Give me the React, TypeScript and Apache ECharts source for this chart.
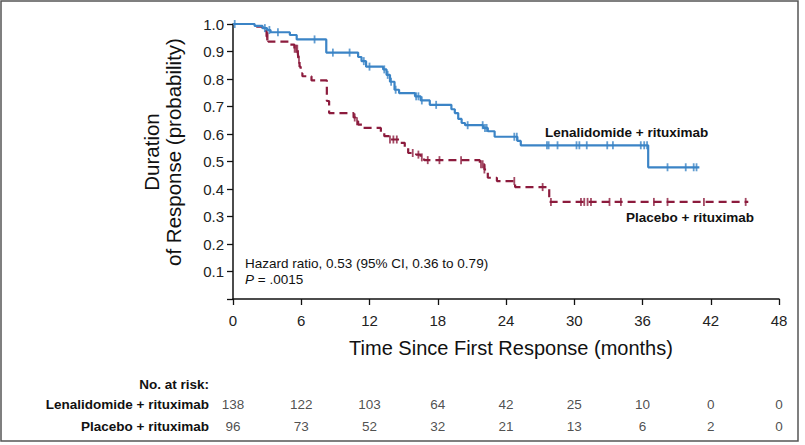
import { useEffect, useRef } from 'react';
import * as echarts from 'echarts';

const FONT = '"Liberation Sans", Arial, Helvetica, sans-serif';

const xTicks = [0, 6, 12, 18, 24, 30, 36, 42, 48];

// Lenalidomide + rituximab: [time (months), survival after drop]
const lenSteps: [number, number][] = [
  [0, 1.0], [1.9, 0.993], [2.6, 0.985], [3.0, 0.978], [3.3, 0.97], [5.0, 0.96],
  [5.6, 0.944], [8.2, 0.896], [11.0, 0.88], [11.3, 0.865], [11.7, 0.845],
  [13.2, 0.835], [13.5, 0.815], [13.8, 0.79], [14.2, 0.761], [14.6, 0.749],
  [16.0, 0.737], [16.5, 0.722], [17.3, 0.706], [19.2, 0.69], [19.5, 0.676],
  [19.8, 0.655], [20.1, 0.64], [20.4, 0.632], [22.0, 0.622], [22.4, 0.61],
  [23.0, 0.59], [25.0, 0.575], [25.3, 0.559], [36.5, 0.479],
];
const lenEnd = 41.0;
const lenCensor = [
  0.15, 2.8, 3.2, 3.95, 7.17, 8.78, 10.25, 11.5, 12.0, 13.3, 13.6, 13.9, 14.3,
  16.1, 16.3, 16.6, 17.86, 20.63, 21.95, 22.15, 22.3, 24.73, 24.95, 27.6, 27.75,
  28.53, 30.2, 30.45, 31.1, 32.9, 33.4, 35.85, 36.15, 36.4, 38.2, 39.8, 40.5, 40.75,
];

// Placebo + rituximab
const plaSteps: [number, number][] = [
  [0, 1.0], [1.9, 0.99], [2.6, 0.975], [2.95, 0.955], [3.1, 0.936], [5.0, 0.925],
  [5.4, 0.91], [5.7, 0.894], [5.75, 0.87], [5.85, 0.845], [5.95, 0.821],
  [6.1, 0.81], [6.9, 0.795], [8.25, 0.72], [8.45, 0.676], [10.6, 0.66],
  [10.8, 0.646], [11.0, 0.634], [11.4, 0.622], [13.0, 0.604], [13.3, 0.592],
  [13.8, 0.58], [14.6, 0.568], [15.1, 0.55], [15.4, 0.531], [16.1, 0.525],
  [16.5, 0.515], [16.8, 0.505], [21.7, 0.49], [22.1, 0.471], [22.4, 0.441],
  [23.2, 0.429], [24.8, 0.407], [27.8, 0.353],
];
const plaEnd = 45.3;
const plaCensor = [
  2.98, 3.05, 5.42, 5.55, 5.65, 5.8, 10.7, 10.9, 13.8, 14.1, 14.4, 15.8, 16.3,
  16.6, 17.12, 18.15, 20.05, 21.8, 21.95, 22.1, 24.73, 27.22, 27.95, 30.59,
  30.88, 31.17, 31.47, 33.1, 34.1, 37.0, 38.2, 41.4, 45.07,
];

const riskRows = ['Lenalidomide + rituximab', 'Placebo + rituximab'];
const lenRisk = [138, 122, 103, 64, 42, 25, 10, 0, 0];
const plaRisk = [96, 73, 52, 32, 21, 13, 6, 2, 0];

const BLUE = '#3b84c6';
const RED = '#8c1b3d';

function survAt(steps: [number, number][], t: number): number {
  let v = steps[0][1];
  for (const [st, sv] of steps) {
    if (st <= t) v = sv;
    else break;
  }
  return v;
}

function lineData(steps: [number, number][], end: number) {
  return [...steps, [end, steps[steps.length - 1][1]]];
}

export default function App() {
  const ref = useRef<HTMLDivElement>(null);

  useEffect(() => {
    if (!ref.current) return;
    const chart = echarts.init(ref.current, undefined, { renderer: 'svg' });

    const option: any = {
      animation: false,
      backgroundColor: '#ffffff',
      textStyle: { fontFamily: FONT },
      grid: [
        { left: 233, right: 26, top: 24, bottom: 146 },
        { left: 233, right: 26, top: 394, height: 43.4 },
      ],
      xAxis: [
        {
          gridIndex: 0,
          type: 'value',
          min: 0,
          max: 48,
          interval: 6,
          axisLine: { show: true, lineStyle: { color: '#111', width: 1.5 } },
          axisTick: { show: true, length: 6, lineStyle: { color: '#111', width: 1.3 } },
          axisLabel: { fontSize: 15, color: '#222', margin: 14, fontFamily: FONT },
          splitLine: { show: false },
        },
        { gridIndex: 1, type: 'value', min: 0, max: 48, show: false },
      ],
      yAxis: [
        {
          gridIndex: 0,
          type: 'value',
          min: 0,
          max: 1,
          interval: 0.1,
          axisLine: { show: true, lineStyle: { color: '#111', width: 1.5 } },
          axisTick: { show: true, length: 6, lineStyle: { color: '#111', width: 1.3 } },
          axisLabel: {
            fontSize: 15,
            color: '#222',
            margin: 9,
            fontFamily: FONT,
            formatter: (v: number) => (v === 0 ? '' : v.toFixed(1)),
          },
          splitLine: { show: false },
        },
        {
          gridIndex: 1,
          type: 'category',
          data: riskRows,
          inverse: true,
          axisLine: { show: false },
          axisTick: { show: false },
          axisLabel: {
            fontSize: 13.5,
            fontWeight: 'bold',
            color: '#111',
            margin: 24,
            fontFamily: FONT,
          },
        },
      ],
      series: [
        {
          type: 'line',
          name: 'Placebo + rituximab',
          step: 'end',
          data: lineData(plaSteps, plaEnd),
          showSymbol: false,
          symbol: 'none',
          lineStyle: { color: RED, width: 2.2, type: [8, 5] },
          silent: true,
          z: 2,
        },
        {
          type: 'scatter',
          data: plaCensor.map((t) => [t, survAt(plaSteps, t)]),
          symbol: 'rect',
          symbolSize: [1.8, 8],
          itemStyle: { color: RED },
          silent: true,
          z: 3,
        },
        {
          type: 'line',
          name: 'Lenalidomide + rituximab',
          step: 'end',
          data: lineData(lenSteps, lenEnd),
          showSymbol: false,
          symbol: 'none',
          lineStyle: { color: BLUE, width: 2.2 },
          silent: true,
          z: 4,
        },
        {
          type: 'scatter',
          data: lenCensor.map((t) => [t, survAt(lenSteps, t)]),
          symbol: 'rect',
          symbolSize: [1.8, 8],
          itemStyle: { color: BLUE },
          silent: true,
          z: 5,
        },
        {
          type: 'scatter',
          xAxisIndex: 1,
          yAxisIndex: 1,
          data: [
            ...xTicks.map((t, i) => [t, 0, lenRisk[i]]),
            ...xTicks.map((t, i) => [t, 1, plaRisk[i]]),
          ],
          symbolSize: 1,
          itemStyle: { color: 'rgba(0,0,0,0)' },
          label: {
            show: true,
            position: 'inside',
            formatter: (p: any) => String(p.value[2]),
            fontSize: 13.5,
            color: '#222',
            fontFamily: FONT,
          },
          silent: true,
        },
      ],
      graphic: [
        {
          type: 'rect',
          shape: { x: 1, y: 1, width: 797, height: 440 },
          style: { fill: 'none', stroke: '#555', lineWidth: 1.5 },
          silent: true,
        },
        {
          type: 'text',
          x: 162,
          y: 152,
          rotation: Math.PI / 2,
          style: {
            text: 'Duration\nof Response (probability)',
            fontSize: 20.5,
            fontFamily: FONT,
            align: 'center',
            verticalAlign: 'middle',
            lineHeight: 22,
            fill: '#111',
          },
        },
        {
          type: 'text',
          x: 511,
          y: 348,
          style: {
            text: 'Time Since First Response (months)',
            fontSize: 20,
            fontFamily: FONT,
            align: 'center',
            verticalAlign: 'middle',
            fill: '#111',
          },
        },
        {
          type: 'text',
          x: 245,
          y: 255,
          style: {
            text: 'Hazard ratio, 0.53 (95% CI, 0.36 to 0.79)\n{i|P} = .0015',
            fontSize: 13.5,
            fontFamily: FONT,
            lineHeight: 16,
            align: 'left',
            verticalAlign: 'top',
            fill: '#111',
            rich: {
              i: { fontStyle: 'italic', fontSize: 13.5, fontFamily: FONT, lineHeight: 16, fill: '#111' },
            },
          },
        },
        {
          type: 'text',
          x: 545,
          y: 132,
          style: {
            text: 'Lenalidomide + rituximab',
            fontSize: 13.5,
            fontWeight: 'bold',
            fontFamily: FONT,
            align: 'left',
            verticalAlign: 'middle',
            fill: '#111',
          },
        },
        {
          type: 'text',
          x: 626,
          y: 217,
          style: {
            text: 'Placebo + rituximab',
            fontSize: 13.5,
            fontWeight: 'bold',
            fontFamily: FONT,
            align: 'left',
            verticalAlign: 'middle',
            fill: '#111',
          },
        },
        {
          type: 'text',
          x: 209,
          y: 384,
          style: {
            text: 'No. at risk:',
            fontSize: 13.5,
            fontWeight: 'bold',
            fontFamily: FONT,
            align: 'right',
            verticalAlign: 'middle',
            fill: '#111',
          },
        },
      ],
    };

    chart.setOption(option);
    return () => chart.dispose();
  }, []);

  return (
    <div
      ref={ref}
      style={{ position: 'fixed', left: 0, top: 0, width: 805, height: 445, background: '#fff' }}
    />
  );
}
